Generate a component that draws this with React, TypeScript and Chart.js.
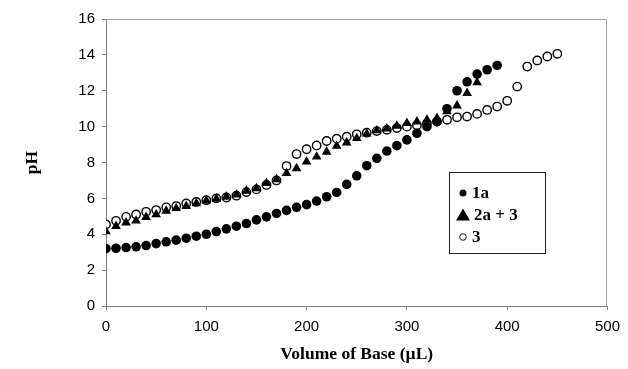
import React, { useEffect, useRef } from 'react';
import { Chart, registerables } from 'chart.js';

Chart.register(...registerables);

// Volume of base (µL)
const vol1a = [0, 10, 20, 30, 40, 50, 60, 70, 80, 90, 100, 110, 120, 130, 140, 150, 160, 170, 180, 190, 200, 210, 220, 230, 240, 250, 260, 270, 280, 290, 300, 310, 320, 330, 340, 350, 360, 370, 380, 390];
const ph1a = [3.2, 3.22, 3.26, 3.3, 3.37, 3.48, 3.58, 3.67, 3.78, 3.89, 4.0, 4.15, 4.3, 4.45, 4.6, 4.8, 4.97, 5.16, 5.33, 5.5, 5.65, 5.85, 6.09, 6.33, 6.78, 7.26, 7.82, 8.23, 8.64, 8.94, 9.26, 9.63, 10.0, 10.28, 11.0, 12.0, 12.5, 12.93, 13.17, 13.41];

const vol2a3 = [0, 10, 20, 30, 40, 50, 60, 70, 80, 90, 100, 110, 120, 130, 140, 150, 160, 170, 180, 190, 200, 210, 220, 230, 240, 250, 260, 270, 280, 290, 300, 310, 320, 330, 340, 350, 360, 370];
const ph2a3 = [4.15, 4.45, 4.65, 4.75, 4.95, 5.1, 5.3, 5.45, 5.57, 5.72, 5.87, 5.97, 6.08, 6.2, 6.42, 6.56, 6.84, 7.06, 7.4, 7.67, 8.04, 8.32, 8.59, 8.92, 9.11, 9.35, 9.6, 9.78, 9.89, 10.04, 10.19, 10.28, 10.38, 10.47, 10.84, 11.17, 11.87, 12.46];

const vol3 = [0, 10, 20, 30, 40, 50, 60, 70, 80, 90, 100, 110, 120, 130, 140, 150, 160, 170, 180, 190, 200, 210, 220, 230, 240, 250, 260, 270, 280, 290, 300, 310, 320, 330, 340, 350, 360, 370, 380, 390, 400, 410, 420, 430, 440, 450];
const ph3 = [4.55, 4.75, 4.97, 5.1, 5.25, 5.35, 5.5, 5.57, 5.72, 5.8, 5.9, 6.0, 6.05, 6.15, 6.35, 6.5, 6.75, 7.0, 7.8, 8.47, 8.74, 8.95, 9.2, 9.33, 9.44, 9.57, 9.66, 9.75, 9.82, 9.92, 10.0, 10.08, 10.17, 10.28, 10.38, 10.52, 10.56, 10.71, 10.93, 11.12, 11.44, 12.23, 13.35, 13.69, 13.91, 14.06];

const seriesNames = ['1a', '2a + 3', '3'];
const xTitle = 'Volume of Base (\u00b5L)';
const yTitle = 'pH';

const toPoints = (xs: number[], ys: number[]) => xs.map((x, i) => ({ x, y: ys[i] }));

const framePlugin = {
  id: 'frame',
  afterDraw(chart: any) {
    const { ctx, chartArea } = chart;
    const { left, right, top, bottom } = chartArea;
    ctx.save();
    ctx.strokeStyle = '#a0a0a0';
    ctx.lineWidth = 1;
    ctx.beginPath();
    ctx.moveTo(left, Math.round(top) + 0.5);
    ctx.lineTo(Math.round(right) - 0.5, Math.round(top) + 0.5);
    ctx.lineTo(Math.round(right) - 0.5, bottom);
    ctx.stroke();
    ctx.restore();
  },
};

const legendPlugin = {
  id: 'boxLegend',
  afterDraw(chart: any) {
    const { ctx } = chart;
    const bx = 449.5, by = 172.5, bw = 96, bh = 81;
    ctx.save();
    ctx.fillStyle = '#ffffff';
    ctx.fillRect(bx, by, bw, bh);
    ctx.strokeStyle = '#222';
    ctx.lineWidth = 1;
    ctx.strokeRect(bx, by, bw, bh);
    const rows = [193, 215, 237];
    const mx = 463;
    ctx.fillStyle = '#000';
    // filled circle
    ctx.beginPath();
    ctx.arc(mx, rows[0], 3.5, 0, Math.PI * 2);
    ctx.fill();
    // triangle
    ctx.beginPath();
    ctx.moveTo(mx, rows[1] - 6.5);
    ctx.lineTo(mx + 7, rows[1] + 5.5);
    ctx.lineTo(mx - 7, rows[1] + 5.5);
    ctx.closePath();
    ctx.fill();
    // open circle
    ctx.beginPath();
    ctx.arc(mx, rows[2], 3.3, 0, Math.PI * 2);
    ctx.lineWidth = 1;
    ctx.stroke();
    ctx.font = 'bold 17px "Liberation Serif", "Times New Roman", serif';
    ctx.textBaseline = 'middle';
    ctx.textAlign = 'left';
    ctx.fillText(seriesNames[0], 472, rows[0] + 1);
    ctx.fillText(seriesNames[1], 474, rows[1] + 1);
    ctx.fillText(seriesNames[2], 472, rows[2] + 1);
    ctx.restore();
  },
};

export default function App() {
  const ref = useRef<HTMLCanvasElement | null>(null);

  useEffect(() => {
    if (!ref.current) return;
    const tickFont = { family: '"Liberation Sans", Arial, sans-serif', size: 15 };
    const titleFont = { family: '"Liberation Serif", "Times New Roman", serif', size: 17.5, weight: 'bold' as const };
    const chart = new Chart(ref.current, {
      type: 'scatter',
      data: {
        datasets: [
          {
            label: seriesNames[0],
            data: toPoints(vol1a, ph1a),
            pointStyle: 'circle',
            pointRadius: 4.8,
            backgroundColor: '#000',
            borderColor: '#000',
            borderWidth: 0,
          },
          {
            label: seriesNames[1],
            data: toPoints(vol2a3, ph2a3),
            pointStyle: 'triangle',
            pointRadius: 5.6,
            backgroundColor: '#000',
            borderColor: '#000',
            borderWidth: 0,
          },
          {
            label: seriesNames[2],
            data: toPoints(vol3, ph3),
            pointStyle: 'circle',
            pointRadius: 4.2,
            backgroundColor: '#fff',
            borderColor: '#000',
            borderWidth: 1.4,
          },
        ],
      },
      options: {
        responsive: false,
        animation: false,
        layout: { padding: { left: 0, right: 16, top: 19, bottom: 0 } },
        plugins: {
          legend: { display: false },
          tooltip: { enabled: false },
        },
        scales: {
          x: {
            type: 'linear',
            min: 0,
            max: 500,
            ticks: { stepSize: 100, color: '#000', font: tickFont, padding: 8, maxRotation: 0 },
            grid: { display: true, drawOnChartArea: false, drawTicks: true, tickLength: 4, color: '#808080' },
            border: { display: true, color: '#808080', width: 1 },
            title: { display: true, text: xTitle, color: '#000', font: titleFont, padding: { top: 4, bottom: 4 } },
            afterFit(scale: any) {
              scale.height = 63;
            },
          },
          y: {
            type: 'linear',
            min: 0,
            max: 16,
            ticks: { stepSize: 2, color: '#000', font: tickFont, padding: 7 },
            grid: { display: true, drawOnChartArea: false, drawTicks: true, tickLength: 4, color: '#808080' },
            border: { display: true, color: '#808080', width: 1 },
            title: { display: true, text: yTitle, color: '#000', font: titleFont, padding: { top: 22, bottom: 4 } },
            afterFit(scale: any) {
              scale.width = 106;
            },
          },
        },
      },
      plugins: [framePlugin, legendPlugin],
    });
    return () => chart.destroy();
  }, []);

  return (
    <div style={{ position: 'fixed', left: 0, top: 0, width: 628, height: 369, background: '#fff' }}>
      <canvas ref={ref} width={628} height={369} style={{ display: 'block', width: 628, height: 369 }} />
    </div>
  );
}
